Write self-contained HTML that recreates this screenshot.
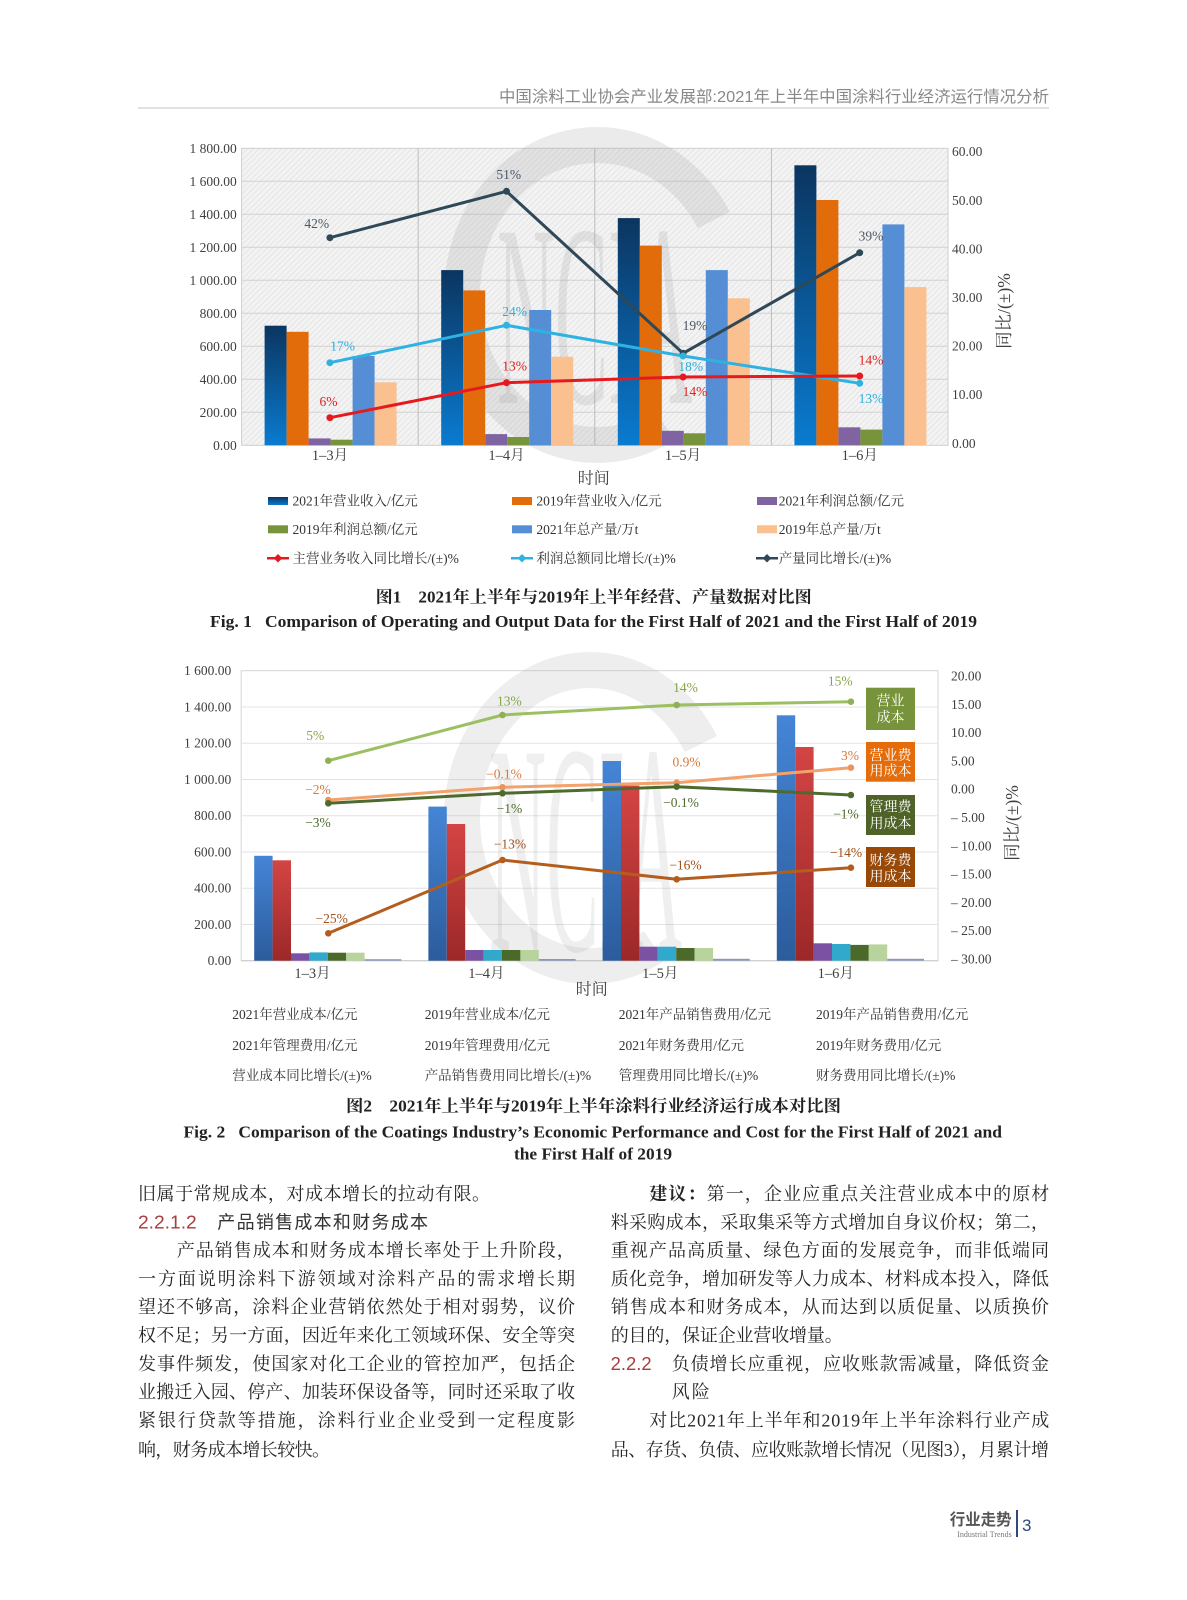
<!DOCTYPE html>
<html><head><meta charset="utf-8"><style>
html,body{margin:0;padding:0;background:#fff;}
svg{display:block;}
.ax{font-family:"Liberation Serif","Noto Serif CJK SC",serif;font-size:13.5px;fill:#404040;}
.lg{font-family:"Liberation Serif","Noto Serif CJK SC",serif;font-size:13.5px;fill:#333;}
.lb{font-family:"Liberation Serif","Noto Serif CJK SC",serif;font-size:13.5px;}
.body{font-family:"Liberation Serif","Noto Serif CJK SC",serif;font-size:18px;fill:#262626;}
.hd{font-family:"Liberation Sans","Noto Sans CJK SC",sans-serif;font-size:18px;fill:#333;}
.num{font-family:"Liberation Sans",sans-serif;font-size:18px;fill:#a63d40;}
.cap{font-family:"Liberation Serif","Noto Serif CJK SC",serif;font-weight:bold;fill:#222;}
.box{font-family:"Liberation Serif","Noto Serif CJK SC",serif;font-size:14px;fill:#fff;}
</style></head><body>
<svg width="1187" height="1600" viewBox="0 0 1187 1600" xmlns="http://www.w3.org/2000/svg">
<defs>
<pattern id="hatch" width="4" height="4" patternUnits="userSpaceOnUse" patternTransform="rotate(45)">
<rect width="4" height="4" fill="#f3f3f3"/><line x1="0" y1="0" x2="0" y2="4" stroke="#dcdcdc" stroke-width="1.2"/>
</pattern>
<linearGradient id="g1" x1="0" y1="0" x2="0" y2="1"><stop offset="0" stop-color="#0b3560"/><stop offset="1" stop-color="#0a7bd0"/></linearGradient>
<linearGradient id="g2b" x1="0" y1="0" x2="0" y2="1"><stop offset="0" stop-color="#4585d6"/><stop offset="1" stop-color="#2b5c9c"/></linearGradient>
<linearGradient id="g2r" x1="0" y1="0" x2="0" y2="1"><stop offset="0" stop-color="#d44444"/><stop offset="1" stop-color="#9c2828"/></linearGradient>
</defs>
<rect width="1187" height="1600" fill="#fff"/>

<!-- Header -->
<text x="1049" y="102" text-anchor="end" font-family="Liberation Sans,Noto Sans CJK SC,sans-serif" font-size="16" fill="#888" textLength="550" lengthAdjust="spacingAndGlyphs">中国涂料工业协会产业发展部:2021年上半年中国涂料行业经济运行情况分析</text>
<line x1="138" y1="108" x2="1049" y2="108" stroke="#cfcfcf" stroke-width="1.2"/>

<!-- ============ CHART 1 ============ -->
<rect x="241.6" y="148.3" width="706.4" height="297" fill="url(#hatch)" stroke="#cfcfcf" stroke-width="1"/>
<g stroke="#d2d2d2" stroke-width="1">
<line x1="241.6" y1="181.3" x2="948" y2="181.3"/><line x1="241.6" y1="214.3" x2="948" y2="214.3"/>
<line x1="241.6" y1="247.3" x2="948" y2="247.3"/><line x1="241.6" y1="280.3" x2="948" y2="280.3"/>
<line x1="241.6" y1="313.3" x2="948" y2="313.3"/><line x1="241.6" y1="346.3" x2="948" y2="346.3"/>
<line x1="241.6" y1="379.3" x2="948" y2="379.3"/><line x1="241.6" y1="412.3" x2="948" y2="412.3"/>
</g>
<g stroke="#bdbdbd" stroke-width="1">
<line x1="418.2" y1="148.3" x2="418.2" y2="445.3"/><line x1="594.8" y1="148.3" x2="594.8" y2="445.3"/><line x1="771.4" y1="148.3" x2="771.4" y2="445.3"/>
</g>
<!-- watermark 1 -->
<path d="M713.9,220 A135,150 0 1 0 664.5,424.9" fill="none" stroke="#9a9a9a" stroke-width="36" opacity="0.2"/>
<text transform="translate(497,403) scale(0.8,2.6)" font-family="Liberation Serif,serif" font-size="100" fill="#8a8a8a" opacity="0.16">NCIA</text>

<!-- bars chart1 -->
<g>
<rect x="264.6" y="325.7" width="22" height="119.6" fill="url(#g1)"/>
<rect x="286.6" y="331.8" width="22" height="113.5" fill="#e36c0a"/>
<rect x="308.6" y="438.4" width="22" height="6.9" fill="#8064a2"/>
<rect x="330.6" y="439.7" width="22" height="5.6" fill="#77933c"/>
<rect x="352.6" y="356" width="22" height="89.3" fill="#558ed5"/>
<rect x="374.6" y="382.3" width="22" height="63" fill="#fac090"/>

<rect x="441.2" y="270.1" width="22" height="175.2" fill="url(#g1)"/>
<rect x="463.2" y="290.4" width="22" height="154.9" fill="#e36c0a"/>
<rect x="485.2" y="434.1" width="22" height="11.2" fill="#8064a2"/>
<rect x="507.2" y="437" width="22" height="8.3" fill="#77933c"/>
<rect x="529.2" y="310" width="22" height="135.3" fill="#558ed5"/>
<rect x="551.2" y="356.7" width="22" height="88.6" fill="#fac090"/>

<rect x="617.8" y="218.1" width="22" height="227.2" fill="url(#g1)"/>
<rect x="639.8" y="245.6" width="22" height="199.7" fill="#e36c0a"/>
<rect x="661.8" y="430.8" width="22" height="14.5" fill="#8064a2"/>
<rect x="683.8" y="433.3" width="22" height="12" fill="#77933c"/>
<rect x="705.8" y="270.1" width="22" height="175.2" fill="#558ed5"/>
<rect x="727.8" y="298.3" width="22" height="147" fill="#fac090"/>

<rect x="794.4" y="165.3" width="22" height="280" fill="url(#g1)"/>
<rect x="816.4" y="200" width="22" height="245.3" fill="#e36c0a"/>
<rect x="838.4" y="427.3" width="22" height="18" fill="#8064a2"/>
<rect x="860.4" y="429.6" width="22" height="15.7" fill="#77933c"/>
<rect x="882.4" y="224.4" width="22" height="220.9" fill="#558ed5"/>
<rect x="904.4" y="287.1" width="22" height="158.2" fill="#fac090"/>
</g>
<!-- lines chart1 -->
<g fill="none" stroke-width="3" stroke-linejoin="round">
<polyline points="329.9,237.7 506.5,191.3 683.1,353.3 859.7,252.7" stroke="#2f4858"/>
<polyline points="329.9,362.7 506.5,325.3 683.1,356 859.7,383.3" stroke="#2eb2e2"/>
<polyline points="329.9,417.7 506.5,382.7 683.1,377 859.7,376" stroke="#e41a1f"/>
</g>
<g>
<circle cx="329.9" cy="237.7" r="3.5" fill="#2f4858"/><circle cx="506.5" cy="191.3" r="3.5" fill="#2f4858"/><circle cx="683.1" cy="353.3" r="3.5" fill="#2f4858"/><circle cx="859.7" cy="252.7" r="3.5" fill="#2f4858"/>
<circle cx="329.9" cy="362.7" r="3.5" fill="#2eb2e2"/><circle cx="506.5" cy="325.3" r="3.5" fill="#2eb2e2"/><circle cx="683.1" cy="356" r="3.5" fill="#2eb2e2"/><circle cx="859.7" cy="383.3" r="3.5" fill="#2eb2e2"/>
<circle cx="329.9" cy="417.7" r="3.5" fill="#e41a1f"/><circle cx="506.5" cy="382.7" r="3.5" fill="#e41a1f"/><circle cx="683.1" cy="377" r="3.5" fill="#e41a1f"/><circle cx="859.7" cy="376" r="3.5" fill="#e41a1f"/>
</g>
<!-- line labels chart1 -->
<g class="lb" text-anchor="middle">
<text x="316.7" y="228" fill="#4a5868">42%</text>
<text x="508.7" y="179" fill="#4a5868">51%</text>
<text x="695" y="330" fill="#4a5868">19%</text>
<text x="871" y="240.5" fill="#4a5868">39%</text>
<text x="342.6" y="350.5" fill="#2aaee0">17%</text>
<text x="514.6" y="316" fill="#2aaee0">24%</text>
<text x="690.8" y="371" fill="#2aaee0">18%</text>
<text x="871" y="403" fill="#2aaee0">13%</text>
<text x="328.5" y="406" fill="#e02020">6%</text>
<text x="514.6" y="370.5" fill="#e02020">13%</text>
<text x="695" y="396" fill="#e02020">14%</text>
<text x="871" y="364.5" fill="#e02020">14%</text>
</g>
<!-- axes chart1 -->
<g class="ax" text-anchor="end">
<text x="236.7" y="152.8">1 800.00</text><text x="236.7" y="185.8">1 600.00</text>
<text x="236.7" y="218.8">1 400.00</text><text x="236.7" y="251.8">1 200.00</text>
<text x="236.7" y="284.8">1 000.00</text><text x="236.7" y="317.8">800.00</text>
<text x="236.7" y="350.8">600.00</text><text x="236.7" y="383.8">400.00</text>
<text x="236.7" y="416.8">200.00</text><text x="236.7" y="449.8">0.00</text>
</g>
<g class="ax">
<text x="952" y="156.2">60.00</text><text x="952" y="204.8">50.00</text>
<text x="952" y="253.4">40.00</text><text x="952" y="302">30.00</text>
<text x="952" y="350.6">20.00</text><text x="952" y="399.2">10.00</text>
<text x="952" y="447.8">0.00</text>
</g>
<text class="ax" style="font-size:17.5px" transform="translate(1010,311) rotate(-90)" text-anchor="middle">同比/(±)%</text>
<g class="ax" text-anchor="middle" style="font-size:14.5px">
<text x="330" y="460">1–3月</text><text x="506.5" y="460">1–4月</text>
<text x="683" y="460">1–5月</text><text x="859.7" y="460">1–6月</text>
</g>
<text class="ax" x="593.8" y="483.5" text-anchor="middle" style="font-size:16px">时间</text>

<!-- legend chart1 -->
<g>
<rect x="268" y="497" width="20" height="8" fill="url(#g1)"/>
<rect x="512" y="497" width="20" height="8" fill="#e36c0a"/>
<rect x="757" y="497" width="20" height="8" fill="#8064a2"/>
<rect x="268" y="525.3" width="20" height="8" fill="#77933c"/>
<rect x="512" y="525.3" width="20" height="8" fill="#558ed5"/>
<rect x="757" y="525.3" width="20" height="8" fill="#fac090"/>
<line x1="267" y1="558.3" x2="289" y2="558.3" stroke="#e41a1f" stroke-width="2.5"/><rect x="275" y="555.3" width="6" height="6" fill="#e41a1f" transform="rotate(45 278 558.3)"/>
<line x1="511" y1="558.3" x2="533" y2="558.3" stroke="#2eb2e2" stroke-width="2.5"/><rect x="519" y="555.3" width="6" height="6" fill="#2eb2e2" transform="rotate(45 522 558.3)"/>
<line x1="756" y1="558.3" x2="778" y2="558.3" stroke="#2f4858" stroke-width="2.5"/><rect x="764" y="555.3" width="6" height="6" fill="#2f4858" transform="rotate(45 767 558.3)"/>
</g>
<g class="lg">
<text x="292.5" y="505.5">2021年营业收入/亿元</text>
<text x="536.4" y="505.5">2019年营业收入/亿元</text>
<text x="778.7" y="505.5">2021年利润总额/亿元</text>
<text x="292.5" y="533.8">2019年利润总额/亿元</text>
<text x="536.4" y="533.8">2021年总产量/万t</text>
<text x="778.7" y="533.8">2019年总产量/万t</text>
<text x="292.5" y="562.8">主营业务收入同比增长/(±)%</text>
<text x="536.4" y="562.8">利润总额同比增长/(±)%</text>
<text x="778.7" y="562.8">产量同比增长/(±)%</text>
</g>
<!-- captions 1 -->
<text class="cap" x="375.7" y="602.5" font-size="16.5" textLength="436" lengthAdjust="spacingAndGlyphs">图1　2021年上半年与2019年上半年经营、产量数据对比图</text>
<text class="cap" x="210" y="626.8" font-size="17" textLength="767" lengthAdjust="spacingAndGlyphs">Fig. 1&#160;&#160;&#160;Comparison of Operating and Output Data for the First Half of 2021 and the First Half of 2019</text>

<!-- ============ CHART 2 ============ -->
<rect x="241.2" y="670.7" width="696.8" height="290" fill="#fff" stroke="#d6d6d6" stroke-width="1"/>
<g stroke="#e3e3e3" stroke-width="1">
<line x1="241.2" y1="706.95" x2="938" y2="706.95"/><line x1="241.2" y1="743.2" x2="938" y2="743.2"/>
<line x1="241.2" y1="779.45" x2="938" y2="779.45"/><line x1="241.2" y1="815.7" x2="938" y2="815.7"/>
<line x1="241.2" y1="851.95" x2="938" y2="851.95"/><line x1="241.2" y1="888.2" x2="938" y2="888.2"/>
<line x1="241.2" y1="924.45" x2="938" y2="924.45"/>
</g>
<line x1="241.2" y1="960.7" x2="938" y2="960.7" stroke="#c8c8c8" stroke-width="1"/>
<!-- watermark 2 -->
<path d="M700.8,744 A128,148 0 1 0 654,946.2" fill="none" stroke="#a8a8a8" stroke-width="36" opacity="0.2"/>
<text transform="translate(489,950) scale(0.79,3.0)" font-family="Liberation Serif,serif" font-size="100" fill="#8a8a8a" opacity="0.13">NCIA</text>

<!-- bars chart2 -->
<g>
<rect x="254.2" y="855.8" width="18.4" height="104.9" fill="url(#g2b)"/>
<rect x="272.6" y="860.3" width="18.4" height="100.4" fill="url(#g2r)"/>
<rect x="291" y="953.3" width="18.4" height="7.4" fill="#7b52a3"/>
<rect x="309.4" y="952.4" width="18.4" height="8.3" fill="#30a9cc"/>
<rect x="327.8" y="952.7" width="18.4" height="8" fill="#4b6a2a"/>
<rect x="346.2" y="952.7" width="18.4" height="8" fill="#b8d49c"/>
<rect x="364.6" y="959.2" width="36.8" height="1.5" fill="#8a98b8"/>

<rect x="428.4" y="806.6" width="18.4" height="154.1" fill="url(#g2b)"/>
<rect x="446.8" y="824" width="18.4" height="136.7" fill="url(#g2r)"/>
<rect x="465.2" y="950" width="18.4" height="10.7" fill="#7b52a3"/>
<rect x="483.6" y="950" width="18.4" height="10.7" fill="#30a9cc"/>
<rect x="502" y="950" width="18.4" height="10.7" fill="#4b6a2a"/>
<rect x="520.4" y="950" width="18.4" height="10.7" fill="#b8d49c"/>
<rect x="538.8" y="959" width="36.8" height="1.7" fill="#8a98b8"/>

<rect x="602.6" y="761" width="18.4" height="199.7" fill="url(#g2b)"/>
<rect x="621" y="785.6" width="18.4" height="175.1" fill="url(#g2r)"/>
<rect x="639.4" y="946.7" width="18.4" height="14" fill="#7b52a3"/>
<rect x="657.8" y="946.7" width="18.4" height="14" fill="#30a9cc"/>
<rect x="676.2" y="948" width="18.4" height="12.7" fill="#4b6a2a"/>
<rect x="694.6" y="948" width="18.4" height="12.7" fill="#b8d49c"/>
<rect x="713" y="958.8" width="36.8" height="1.9" fill="#8a98b8"/>

<rect x="776.8" y="715.3" width="18.4" height="245.4" fill="url(#g2b)"/>
<rect x="795.2" y="747" width="18.4" height="213.7" fill="url(#g2r)"/>
<rect x="813.6" y="943.3" width="18.4" height="17.4" fill="#7b52a3"/>
<rect x="832" y="944" width="18.4" height="16.7" fill="#30a9cc"/>
<rect x="850.4" y="944.9" width="18.4" height="15.8" fill="#4b6a2a"/>
<rect x="868.8" y="944.4" width="18.4" height="16.3" fill="#b8d49c"/>
<rect x="887.2" y="958.8" width="36.8" height="1.9" fill="#8a98b8"/>
</g>
<!-- lines chart2 -->
<g fill="none" stroke-width="3" stroke-linejoin="round">
<polyline points="328.3,760.7 502.5,715 676.7,705 850.9,701.7" stroke="#9cbf62"/>
<polyline points="328.3,800 502.5,787.3 676.7,782.7 850.9,767.7" stroke="#f2a26c"/>
<polyline points="328.3,803.3 502.5,793.3 676.7,786.7 850.9,795" stroke="#4e6b2e"/>
<polyline points="328.3,933.3 502.5,860 676.7,879.3 850.9,867.7" stroke="#b35e1e"/>
</g>
<g>
<circle cx="328.3" cy="760.7" r="3.3" fill="#8fb055"/><circle cx="502.5" cy="715" r="3.3" fill="#8fb055"/><circle cx="676.7" cy="705" r="3.3" fill="#8fb055"/><circle cx="850.9" cy="701.7" r="3.3" fill="#8fb055"/>
<circle cx="328.3" cy="800" r="3.3" fill="#ec945a"/><circle cx="502.5" cy="787.3" r="3.3" fill="#ec945a"/><circle cx="676.7" cy="782.7" r="3.3" fill="#ec945a"/><circle cx="850.9" cy="767.7" r="3.3" fill="#ec945a"/>
<circle cx="328.3" cy="803.3" r="3.3" fill="#4e6b2e"/><circle cx="502.5" cy="793.3" r="3.3" fill="#4e6b2e"/><circle cx="676.7" cy="786.7" r="3.3" fill="#4e6b2e"/><circle cx="850.9" cy="795" r="3.3" fill="#4e6b2e"/>
<circle cx="328.3" cy="933.3" r="3.3" fill="#b35e1e"/><circle cx="502.5" cy="860" r="3.3" fill="#b35e1e"/><circle cx="676.7" cy="879.3" r="3.3" fill="#b35e1e"/><circle cx="850.9" cy="867.7" r="3.3" fill="#b35e1e"/>
</g>
<!-- labels chart2 -->
<g class="lb" text-anchor="middle">
<text x="315.2" y="740" fill="#86a648">5%</text>
<text x="509.4" y="705.5" fill="#86a648">13%</text>
<text x="685.5" y="692" fill="#86a648">14%</text>
<text x="840.2" y="685.5" fill="#86a648">15%</text>
<text x="318" y="794" fill="#d8783a">−2%</text>
<text x="504" y="778.5" fill="#d8783a">−0.1%</text>
<text x="686.6" y="766.5" fill="#d8783a">0.9%</text>
<text x="850" y="760" fill="#d8783a">3%</text>
<text x="318" y="827" fill="#4e6b2e">−3%</text>
<text x="509.4" y="813" fill="#4e6b2e">−1%</text>
<text x="681" y="807" fill="#4e6b2e">−0.1%</text>
<text x="846" y="818.5" fill="#4e6b2e">−1%</text>
<text x="331.7" y="923" fill="#a0521c">−25%</text>
<text x="510" y="848.5" fill="#a0521c">−13%</text>
<text x="685.5" y="869.5" fill="#a0521c">−16%</text>
<text x="846" y="857" fill="#a0521c">−14%</text>
</g>
<!-- boxes -->
<rect x="866" y="687.7" width="49" height="42.3" fill="#77933c"/>
<rect x="866" y="742" width="49" height="39.7" fill="#e46c0a"/>
<rect x="866" y="795" width="49" height="40" fill="#4f6228"/>
<rect x="866" y="847" width="49" height="40" fill="#984807"/>
<g class="box" text-anchor="middle">
<text x="890.5" y="705.5">营业</text><text x="890.5" y="722">成本</text>
<text x="890.5" y="760">营业费</text><text x="890.5" y="775.5">用成本</text>
<text x="890.5" y="811.5">管理费</text><text x="890.5" y="828">用成本</text>
<text x="890.5" y="865">财务费</text><text x="890.5" y="881">用成本</text>
</g>
<!-- axes chart2 -->
<g class="ax" text-anchor="end">
<text x="231.3" y="675.2">1 600.00</text><text x="231.3" y="711.5">1 400.00</text>
<text x="231.3" y="747.7">1 200.00</text><text x="231.3" y="784">1 000.00</text>
<text x="231.3" y="820.2">800.00</text><text x="231.3" y="856.5">600.00</text>
<text x="231.3" y="892.7">400.00</text><text x="231.3" y="929">200.00</text>
<text x="231.3" y="965.2">0.00</text>
</g>
<g class="ax">
<text x="951" y="680.5">20.00</text><text x="951" y="708.8">15.00</text>
<text x="951" y="737.1">10.00</text><text x="951" y="765.4">5.00</text>
<text x="951" y="793.7">0.00</text><text x="951" y="822">– 5.00</text>
<text x="951" y="850.3">– 10.00</text><text x="951" y="878.6">– 15.00</text>
<text x="951" y="906.9">– 20.00</text><text x="951" y="935.2">– 25.00</text>
<text x="951" y="963.5">– 30.00</text>
</g>
<text class="ax" style="font-size:17.5px" transform="translate(1018,823) rotate(-90)" text-anchor="middle">同比/(±)%</text>
<g class="ax" text-anchor="middle" style="font-size:14.5px">
<text x="312.5" y="978">1–3月</text><text x="486.4" y="978">1–4月</text>
<text x="660.3" y="978">1–5月</text><text x="835.8" y="978">1–6月</text>
</g>
<text class="ax" x="591.7" y="994.5" text-anchor="middle" style="font-size:16px">时间</text>
<!-- legend chart2 -->
<g class="lg">
<text x="232.3" y="1019">2021年营业成本/亿元</text>
<text x="424.7" y="1019">2019年营业成本/亿元</text>
<text x="618.8" y="1019">2021年产品销售费用/亿元</text>
<text x="816" y="1019">2019年产品销售费用/亿元</text>
<text x="232.3" y="1050">2021年管理费用/亿元</text>
<text x="424.7" y="1050">2019年管理费用/亿元</text>
<text x="618.8" y="1050">2021年财务费用/亿元</text>
<text x="816" y="1050">2019年财务费用/亿元</text>
<text x="232.3" y="1080">营业成本同比增长/(±)%</text>
<text x="424.7" y="1080">产品销售费用同比增长/(±)%</text>
<text x="618.8" y="1080">管理费用同比增长/(±)%</text>
<text x="816" y="1080">财务费用同比增长/(±)%</text>
</g>
<!-- captions 2 -->
<text class="cap" x="346" y="1111.5" font-size="16.5" textLength="495" lengthAdjust="spacingAndGlyphs">图2　2021年上半年与2019年上半年涂料行业经济运行成本对比图</text>
<text class="cap" x="183.5" y="1137.5" font-size="17" textLength="818.5" lengthAdjust="spacingAndGlyphs">Fig. 2&#160;&#160;&#160;Comparison of the Coatings Industry’s Economic Performance and Cost for the First Half of 2021 and</text>
<text class="cap" x="514" y="1159.5" font-size="17" textLength="158" lengthAdjust="spacingAndGlyphs">the First Half of 2019</text>

<!-- ============ BODY TEXT ============ -->
<g class="body">
<text x="138" y="1200" textLength="352" lengthAdjust="spacing">旧属于常规成本，对成本增长的拉动有限。</text>
<text x="176.7" y="1256.5" textLength="398" lengthAdjust="spacing">产品销售成本和财务成本增长率处于上升阶段，</text>
<text x="138" y="1285" textLength="437" lengthAdjust="spacing">一方面说明涂料下游领域对涂料产品的需求增长期</text>
<text x="138" y="1313" textLength="437" lengthAdjust="spacing">望还不够高，涂料企业营销依然处于相对弱势，议价</text>
<text x="138" y="1341.5" textLength="437" lengthAdjust="spacing">权不足；另一方面，因近年来化工领域环保、安全等突</text>
<text x="138" y="1370" textLength="437" lengthAdjust="spacing">发事件频发，使国家对化工企业的管控加严，包括企</text>
<text x="138" y="1398" textLength="437" lengthAdjust="spacing">业搬迁入园、停产、加装环保设备等，同时还采取了收</text>
<text x="138" y="1426.5" textLength="437" lengthAdjust="spacing">紧银行贷款等措施，涂料行业企业受到一定程度影</text>
<text x="138" y="1456" textLength="192" lengthAdjust="spacing">响，财务成本增长较快。</text>

<text x="649.3" y="1200" textLength="400" lengthAdjust="spacing"><tspan font-weight="bold">建议：</tspan>第一，企业应重点关注营业成本中的原材</text>
<text x="610.7" y="1228.5" textLength="438.3" lengthAdjust="spacing">料采购成本，采取集采等方式增加自身议价权；第二，</text>
<text x="610.7" y="1256.5" textLength="438.3" lengthAdjust="spacing">重视产品高质量、绿色方面的发展竞争，而非低端同</text>
<text x="610.7" y="1285" textLength="438.3" lengthAdjust="spacing">质化竞争，增加研发等人力成本、材料成本投入，降低</text>
<text x="610.7" y="1313" textLength="438.3" lengthAdjust="spacing">销售成本和财务成本，从而达到以质促量、以质换价</text>
<text x="610.7" y="1341.5" textLength="232" lengthAdjust="spacing">的目的，保证企业营收增量。</text>
<text x="671.7" y="1370" textLength="377.3" lengthAdjust="spacing">负债增长应重视，应收账款需减量，降低资金</text>
<text x="671.7" y="1398" textLength="38" lengthAdjust="spacing">风险</text>
<text x="649.3" y="1426.5" textLength="400" lengthAdjust="spacing">对比2021年上半年和2019年上半年涂料行业产成</text>
<text x="610.7" y="1456" textLength="438.3" lengthAdjust="spacing">品、存货、负债、应收账款增长情况（见图3），月累计增</text>
</g>
<text class="num" x="138" y="1228.5" textLength="58.7" lengthAdjust="spacingAndGlyphs">2.2.1.2</text>
<text class="hd" x="217.3" y="1228.5" textLength="210.7" lengthAdjust="spacing">产品销售成本和财务成本</text>
<text class="num" x="610.7" y="1370" textLength="41" lengthAdjust="spacingAndGlyphs">2.2.2</text>

<!-- footer -->
<text x="1011.7" y="1525" text-anchor="end" font-family="Liberation Sans,Noto Sans CJK SC,sans-serif" font-size="16" font-weight="bold" fill="#555" textLength="62" lengthAdjust="spacingAndGlyphs">行业走势</text>
<text x="1011.7" y="1537" text-anchor="end" font-family="Liberation Serif,serif" font-size="8" fill="#777">Industrial Trends</text>
<rect x="1016" y="1510" width="2" height="27" fill="#2c4a7c"/>
<text x="1022" y="1531" font-family="Liberation Sans,sans-serif" font-size="17" fill="#2c4a7c">3</text>
</svg>
</body></html>
